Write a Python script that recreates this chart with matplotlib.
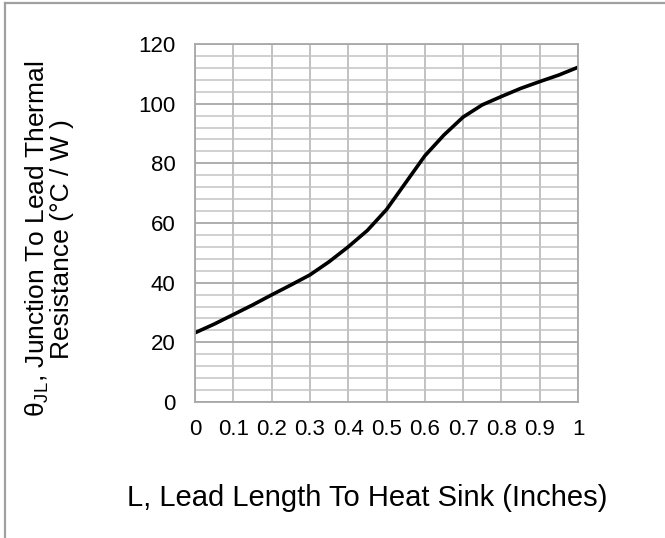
import matplotlib
matplotlib.use("Agg")
import matplotlib.pyplot as plt
from matplotlib.lines import Line2D

plt.rcParams['font.family'] = ['Liberation Sans', 'DejaVu Sans']

# Data
lead_length = [0.0, 0.05, 0.1, 0.15, 0.2, 0.25, 0.3, 0.35, 0.4, 0.45, 0.5,
               0.55, 0.6, 0.65, 0.7, 0.75, 0.8, 0.85, 0.9, 0.95, 1.0]
theta_jl = [23.2, 26.1, 29.3, 32.5, 35.9, 39.2, 42.6, 47.0, 52.0, 57.5, 64.5,
            73.5, 82.5, 89.5, 95.5, 99.6, 102.4, 105.1, 107.4, 109.6, 112.2]
x_ticks = [0, 0.1, 0.2, 0.3, 0.4, 0.5, 0.6, 0.7, 0.8, 0.9, 1]
x_tick_labels = ["0", "0.1", "0.2", "0.3", "0.4", "0.5", "0.6", "0.7", "0.8", "0.9", "1"]
y_ticks = [0, 20, 40, 60, 80, 100, 120]
y_minor = list(range(0, 121, 4))

W, H = 665, 538
fig = plt.figure(figsize=(W / 100, H / 100), dpi=100)
ax = fig.add_axes([195 / W, 1 - 402 / H, (578 - 195) / W, (402 - 44) / H])

ax.set_xlim(0, 1)
ax.set_ylim(0, 120)
ax.set_xticks(x_ticks)
ax.set_xticklabels(x_tick_labels)
ax.set_yticks(y_ticks)
ax.set_yticks(y_minor, minor=True)
ax.tick_params(axis='both', which='both', length=0)
ax.tick_params(axis='x', pad=12, labelsize=16)
ax.tick_params(axis='y', pad=14, labelsize=16)

ax.grid(True, which='minor', axis='y', color='#c4c4c4', linewidth=1.1)
ax.grid(True, which='major', axis='y', color='#a8a8a8', linewidth=1.3)
ax.grid(True, which='major', axis='x', color='#bdbdbd', linewidth=1.3)
ax.set_axisbelow(True)
for s in ax.spines.values():
    s.set_color('#a8a8a8')
    s.set_linewidth(1.3)

ax.plot(lead_length, theta_jl, color='black', linewidth=2.6,
        solid_capstyle='round', solid_joinstyle='round')

fig.text(49 / W, 1 - 239 / H,
         "θ$_{\\mathregular{JL}}$, Junction To Lead Thermal\nResistance (°C / W )",
         rotation=90, ha='center', va='center', multialignment='center',
         fontsize=19, linespacing=0.95)
fig.text(367 / W, 1 - 498 / H, "L, Lead Length To Heat Sink (Inches)",
         ha='center', va='center', fontsize=21)

# outer frame lines (top and left)
fig.add_artist(Line2D([5 / W, 5 / W], [0, 1 - 3 / H], transform=fig.transFigure,
                      color='#a0a0a0', linewidth=1.6))
fig.add_artist(Line2D([5 / W, 1], [1 - 3 / H, 1 - 3 / H], transform=fig.transFigure,
                      color='#a0a0a0', linewidth=1.6))

fig.savefig("out.png", dpi=100)
